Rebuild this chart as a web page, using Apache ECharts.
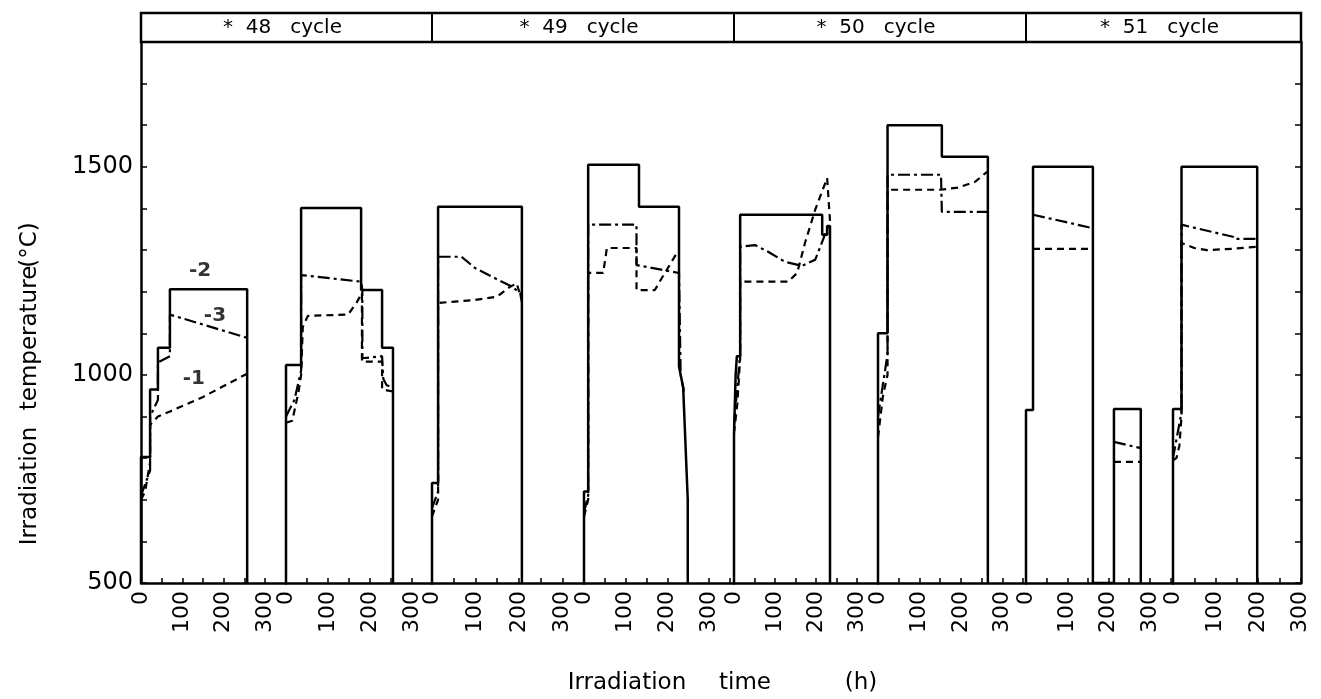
<!DOCTYPE html>
<html lang="en">
<head>
  <meta charset="UTF-8">
  <title>Irradiation temperature vs time</title>
  <script src="https://cdn.jsdelivr.net/npm/echarts@6/dist/echarts.min.js"></script>
  <style>
    html, body { margin: 0; padding: 0; background: #fff; }
    #chart { width: 1321px; height: 699px; }
  </style>
</head>
<body>
  <div id="chart"></div>
  <script>
    // cycle headers, one per pair of panels
    const cycleLabels = ['*  48   cycle', '*  49   cycle', '*  50   cycle', '*  51   cycle'];
    // length of each irradiation panel (h)
    const panelSpans = [351, 348, 350, 360, 351, 357, 356, 301];
    const tempTicks = [500, 1000, 1500];
    const timeTicks = [0, 100, 200, 300];

    // curve 2 (solid): one list per panel, [time h, temperature C]
    const curve2 = [
      [[0,500],[0,803],[22,803],[22,965],[41,965],[41,1065],[70,1065],[70,1206],[257,1206],[257,500]],
      [[0,500],[0,1024],[36,1024],[36,1401],[179,1401],[179,1204],[229,1204],[229,1065],[255,1065],[255,500]],
      [[0,500],[0,740],[14,740],[14,1404],[207,1404],[207,500]],
      [[0,500],[0,720],[10,720],[10,1505],[132,1505],[132,1404],[228,1404],[228,1020],[238,970],[249,700],[249,500]],
      [[0,500],[0,860],[4,1000],[7,1045],[15,1045],[15,1385],[215,1385],[215,1337],[227,1337],[227,1358],[234,1358],[234,500]],
      [[0,500],[0,1100],[23,1100],[23,1600],[154,1600],[154,1524],[265,1524],[265,500]],
      [[0,500],[0,916],[17,916],[17,1500],[162,1500],[162,500],[213,500],[213,918],[278,918],[278,500]],
      [[0,500],[0,918],[20,918],[20,1500],[198,1500],[198,500]]
    ];

    // curve 1 (dashed)
    const curve1 = [
      [[0,700],[10,720],[22,790],[22,880],[41,900],[70,912],[150,947],[257,1003]],
      [[0,885],[15,890],[30,960],[36,1000],[40,1115],[52,1142],[148,1145],[169,1175],[181,1197],[181,1032],[229,1032],[229,965],[255,960]],
      [[0,660],[14,700],[14,1173],[99,1180],[150,1188],[180,1212],[195,1220],[205,1185]],
      [[0,660],[10,700],[10,1245],[46,1245],[55,1305],[126,1305],[126,1204],[170,1204],[194,1245],[223,1293]],
      [[0,860],[8,930],[15,1040],[15,1224],[132,1224],[154,1245],[173,1317],[198,1397],[227,1473],[234,1370]],
      [[0,850],[12,950],[23,1000],[23,1445],[150,1445],[193,1450],[234,1464],[263,1488]],
      [[17,1303],[160,1303],[162,'-'],[213,791],[278,791]],
      [[0,795],[8,800],[15,830],[20,900],[20,1317],[50,1305],[80,1300],[140,1303],[198,1308]]
    ];

    // curve 3 (dash-dot)
    const curve3 = [
      [[0,710],[22,770],[22,900],[41,940],[41,1030],[70,1045],[70,1145],[257,1089]],
      [[0,900],[20,940],[36,1010],[36,1240],[179,1224],[182,1205],[182,1040],[229,1045],[232,990],[240,975],[255,970]],
      [[0,680],[14,720],[14,1284],[68,1284],[99,1257],[138,1236],[184,1212],[203,1197],[207,1175]],
      [[0,670],[10,710],[10,1361],[126,1361],[126,1264],[228,1245],[232,1000],[240,960]],
      [[0,880],[15,1050],[15,1308],[51,1312],[83,1296],[124,1272],[166,1262],[198,1277],[217,1325],[229,1356]],
      [[0,900],[23,1050],[23,1481],[152,1481],[154,1392],[265,1392]],
      [[17,1385],[160,1353],[162,'-'],[213,839],[278,824]],
      [[0,800],[20,910],[20,1361],[141,1332],[143,1327],[198,1327]]
    ];

    // curve tags in the first panel
    const curveTags = [
      { name: '-2', value: [143, 1250] },
      { name: '-3', value: [179, 1142] },
      { name: '-1', value: [128, 990] }
    ];

    // layout (px)
    const panelEdges = [141, 286, 432, 584, 734, 878, 1026, 1173, 1301];
    const plotTop = 42;
    const plotHeight = 541;
    const headTop = 13;
    const font = 'DejaVu Sans';

    const grids = [], xAxes = [], yAxes = [], series = [];
    for (let i = 0; i < 8; i++) {
      grids.push({ left: panelEdges[i], width: panelEdges[i + 1] - panelEdges[i], top: plotTop, height: plotHeight });
      xAxes.push({
        gridIndex: i, type: 'value', min: 0, max: panelSpans[i], interval: 50,
        axisLine: { onZero: false, lineStyle: { color: '#000', width: 2.5 } },
        axisTick: { inside: true, length: 5, lineStyle: { color: '#000', width: 1.5 } },
        axisLabel: {
          rotate: 90, margin: 8, color: '#000', fontSize: 22, fontFamily: font,
          formatter: v => timeTicks.includes(v) ? String(v) : ''
        },
        splitLine: { show: false }
      });
      const isFirst = i === 0, isLast = i === 7;
      yAxes.push({
        gridIndex: i, type: 'value', min: 500, max: 1800, interval: 100,
        show: isFirst || isLast,
        position: isLast ? 'right' : 'left',
        axisLine: { show: true, onZero: false, lineStyle: { color: '#000', width: 2.5 } },
        axisTick: { inside: true, length: 6, lineStyle: { color: '#000', width: 1.5 } },
        axisLabel: {
          show: isFirst, margin: 8, color: '#000', fontSize: 24, fontFamily: font,
          formatter: v => tempTicks.includes(v) ? String(v) : ''
        },
        splitLine: { show: false }
      });
      series.push({
        type: 'line', xAxisIndex: i, yAxisIndex: i, data: curve1[i], symbol: 'none',
        lineStyle: { color: '#000', width: 2.2, type: [7, 5] }
      });
      series.push({
        type: 'line', xAxisIndex: i, yAxisIndex: i, data: curve3[i], symbol: 'none',
        lineStyle: { color: '#000', width: 2.2, type: [12, 4, 3, 4] }
      });
      series.push({
        type: 'line', xAxisIndex: i, yAxisIndex: i, data: curve2[i], symbol: 'none',
        lineStyle: { color: '#000', width: 2.5 }
      });
    }
    series.push({
      type: 'scatter', xAxisIndex: 0, yAxisIndex: 0, symbolSize: 0, data: curveTags,
      label: { show: true, position: 'inside', formatter: '{b}', color: '#000', fontSize: 20, fontWeight: 'bold', fontFamily: font }
    });

    // header band with the cycle names
    const graphic = [{
      type: 'rect',
      shape: { x: panelEdges[0], y: headTop, width: panelEdges[8] - panelEdges[0], height: plotTop - headTop },
      style: { fill: 'none', stroke: '#000', lineWidth: 2.5 }
    }];
    cycleLabels.forEach((txt, k) => {
      const a = panelEdges[2 * k], b = panelEdges[2 * k + 2];
      if (k > 0) {
        graphic.push({ type: 'line', shape: { x1: a, y1: headTop, x2: a, y2: plotTop }, style: { stroke: '#000', lineWidth: 2 } });
      }
      graphic.push({
        type: 'text', x: (a + b) / 2 - 4, y: (headTop + plotTop) / 2,
        style: { text: txt, fill: '#000', fontSize: 20, fontFamily: font, align: 'center', verticalAlign: 'middle' }
      });
    });
    // axis titles
    [['Irradiation', 486], ['temperature', 338], ['(°C)', 245]].forEach(([t, y]) => {
      graphic.push({
        type: 'text', x: 30, y: y, rotation: Math.PI / 2,
        style: { text: t, fill: '#000', fontSize: 23, fontFamily: font, align: 'center', verticalAlign: 'middle' }
      });
    });
    [['Irradiation', 627], ['time', 745], ['(h)', 861]].forEach(([t, x]) => {
      graphic.push({
        type: 'text', x: x, y: 683,
        style: { text: t, fill: '#000', fontSize: 23, fontFamily: font, align: 'center', verticalAlign: 'middle' }
      });
    });

    const chart = echarts.init(document.getElementById('chart'));
    chart.setOption({
      animation: false,
      backgroundColor: '#fff',
      grid: grids,
      xAxis: xAxes,
      yAxis: yAxes,
      series: series,
      graphic: graphic
    });
  </script>
</body>
</html>
